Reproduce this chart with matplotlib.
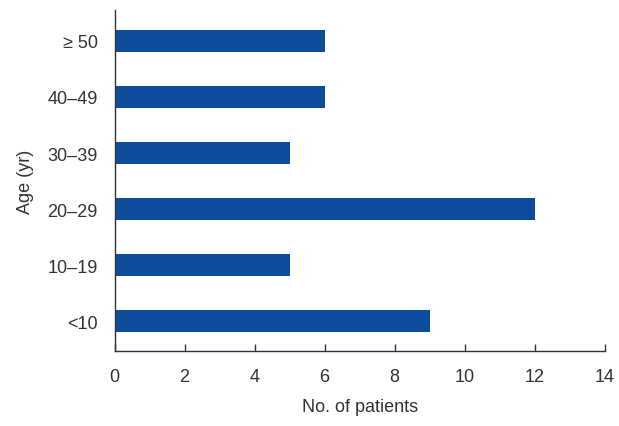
import matplotlib
matplotlib.use("Agg")
import matplotlib.pyplot as plt
from matplotlib import font_manager

categories = ["<10", "10–19", "20–29", "30–39", "40–49", "≥50"]
tick_labels = ["<10", "10–19", "20–29", "30–39", "40–49", "≥ 50"]
values = [9, 5, 12, 5, 6, 6]

names = {f.name for f in font_manager.fontManager.ttflist}
fam = ["Liberation Sans Narrow", "DejaVu Sans"] if "Liberation Sans Narrow" in names else ["Liberation Sans", "DejaVu Sans"]
plt.rcParams['font.family'] = fam

fig = plt.figure(figsize=(6.19, 4.27), dpi=100)
ax = fig.add_axes([0.185, 0.176, 0.792, 0.798])
ax.barh(range(len(categories)), values, height=0.4, color="#0E4C9C")
ax.set_xlim(0, 14)
ax.set_ylim(-0.53, 5.55)
ax.set_xticks(range(0, 15, 2))
ax.set_yticks(range(len(categories)))
ax.set_yticklabels(tick_labels)
ax.tick_params(axis='x', direction='in', length=5, width=1, colors='#333333', labelsize=13, pad=12, labelcolor='#333333')
ax.tick_params(axis='y', length=0, labelsize=13, pad=12, labelcolor='#333333')
for s in ["top", "right"]:
    ax.spines[s].set_visible(False)
for s in ["left", "bottom"]:
    ax.spines[s].set_color("#333333")
    ax.spines[s].set_linewidth(1)
ax.set_xlabel("No. of patients", fontsize=13, color='#333333', labelpad=10)
ax.set_ylabel("Age (yr)", fontsize=13, color='#333333', labelpad=10)
fig.savefig("out.png", dpi=100)
